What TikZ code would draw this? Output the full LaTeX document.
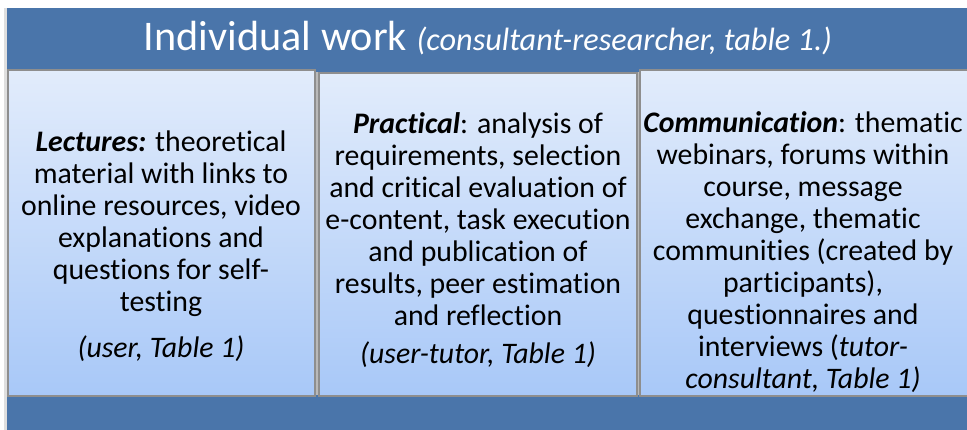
\documentclass[tikz,border=0pt]{standalone}
\usepackage{fontspec}
\setmainfont[Ligatures=NoCommon]{Carlito}
\usetikzlibrary{shadings}
\definecolor{bgblue}{HTML}{4A75AA}
\definecolor{boxtop}{HTML}{E2ECFB}
\definecolor{boxbot}{HTML}{A8C8F8}
\definecolor{boxline}{HTML}{8E8E8E}
\tikzset{
  panel/.style={draw=boxline, line width=1.6pt, top color=boxtop, bottom color=boxbot},
  bodytext/.style={align=center, inner sep=0pt, anchor=north, font=\fontsize{29.8}{32}\selectfont, text=black},
  titletext/.style={inner sep=0pt, anchor=base, text=white}
}
\begin{document}
\begin{tikzpicture}[x=1pt,y=-1pt]
\useasboundingbox (0,0) rectangle (967,430);
\fill[white] (0,0) rectangle (967,430);
\fill[gray!25] (4,8) rectangle (8,430);
\fill[bgblue] (7,8) rectangle (967,430);
\node[titletext] (title) at (488,51) {\fontsize{42.2}{48}\selectfont Individual work \fontsize{32.3}{36}\selectfont\itshape (consultant-researcher, table 1.)};
% shadows
\fill[gray!55] (314,72) rectangle (318,395);
\fill[gray!55] (636,72) rectangle (640,395);
\node[panel, minimum width=307pt, minimum height=326pt, inner sep=0pt, anchor=north west] (b1) at (7,69) {};
\node[panel, minimum width=318pt, minimum height=323pt, inner sep=0pt, anchor=north west] (b2) at (318,72) {};
\node[panel, minimum width=330pt, minimum height=326pt, inner sep=0pt, anchor=north west] (b3) at (639,69) {};
\node[bodytext] (t1) at (161,131) {\textbf{\textit{Lectures:}} theoretical\\ material with links to\\ online resources, video\\ explanations and\\ questions for self-\\ testing\\[14pt] \textit{(user, Table 1)}};
\node[bodytext] (t2) at (478,112) {\textbf{\textit{Practical}}: analysis of\\ requirements, selection\\ and critical evaluation of\\ e-content, task execution\\ and publication of\\ results, peer estimation\\ and reflection\\[6pt] \textit{(user-tutor, Table 1)}};
\node[bodytext] (t3) at (803,111) {\textbf{\textit{Communication}}: thematic\\ webinars, forums within\\ course, message\\ exchange, thematic\\ communities (created by\\ participants),\\ questionnaires and\\ interviews (\textit{tutor-}\\ \textit{consultant, Table 1)}};
\end{tikzpicture}
\end{document}
